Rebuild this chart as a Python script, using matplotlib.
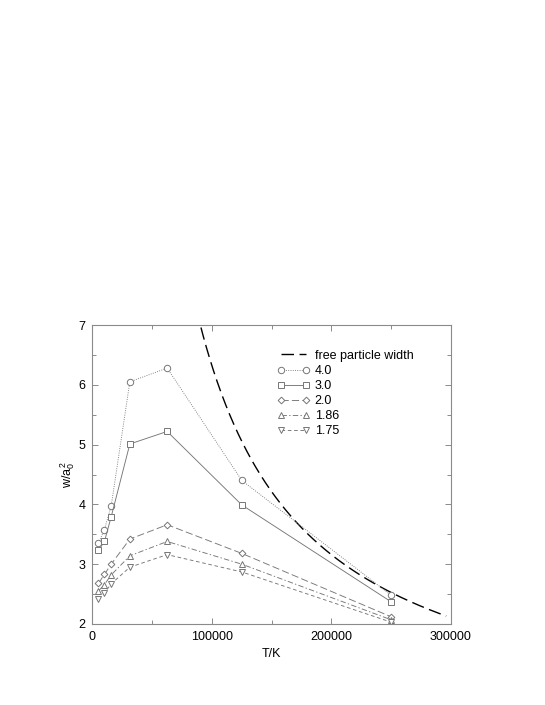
import numpy as np
import matplotlib.pyplot as plt
from matplotlib.ticker import MultipleLocator

plt.rcParams['font.family'] = ['Liberation Sans', 'DejaVu Sans']
plt.rcParams['mathtext.fontset'] = 'custom'
plt.rcParams['mathtext.rm'] = 'Liberation Sans'
plt.rcParams['mathtext.it'] = 'Liberation Sans'

# temperatures (K)
T = [5000, 10000, 15625, 31250, 62500, 125000, 250000]

# widths w/a0^2 for each parameter value
w_40 = [3.35, 3.58, 3.97, 6.05, 6.28, 4.40, 2.48]
w_30 = [3.23, 3.38, 3.79, 5.01, 5.22, 3.99, 2.37]
w_20 = [2.68, 2.83, 3.00, 3.42, 3.66, 3.18, 2.12]
w_186 = [2.55, 2.66, 2.82, 3.14, 3.38, 3.00, 2.07]
w_175 = [2.42, 2.52, 2.67, 2.95, 3.16, 2.87, 2.03]

labels = ['4.0', '3.0', '2.0', '1.86', '1.75']

# free particle width: 2 * Hartree/k_B / T
HARTREE_K = 315775.0
T_free = np.linspace(60000, 296000, 400)
w_free = 2 * HARTREE_K / T_free

fig = plt.figure(figsize=(5.45, 7.05), dpi=100)
ax = fig.add_axes([0.1697, 0.1149, 0.6578, 0.4241])

ax.plot(T_free, w_free, color='black', lw=1.0, dashes=(9, 4),
        label='free particle width')

grey = '#767676'
styles = [
    dict(marker='o', ls=':', dashes=(1, 1.5)),
    dict(marker='s', ls='-'),
    dict(marker='D', ls='--', dashes=(8, 3.5), ms=3.4),
    dict(marker='^', ls='-.', dashes=(6, 2.5, 1.5, 2.5)),
    dict(marker='v', ls='--', dashes=(4, 3)),
]
series = [w_40, w_30, w_20, w_186, w_175]
for w, lab, st in zip(series, labels, styles):
    ms = st.pop('ms', 4.6)
    ax.plot(T, w, color=grey, lw=0.65, mfc='white', mec=grey, mew=0.7,
            ms=ms, label=lab, **st)

ax.set_xlim(0, 300000)
ax.set_ylim(2, 7)
ax.xaxis.set_major_locator(MultipleLocator(100000))
ax.xaxis.set_minor_locator(MultipleLocator(50000))
ax.yaxis.set_major_locator(MultipleLocator(1))
ax.yaxis.set_minor_locator(MultipleLocator(0.5))
ax.tick_params(which='both', direction='in', top=True, right=True,
               color='#8a8a8a', labelsize=9, width=0.7)
ax.tick_params(which='major', length=4, pad=5)
ax.tick_params(which='minor', length=3)
for s in ax.spines.values():
    s.set_color('#8a8a8a')
    s.set_linewidth(0.8)

ax.set_xlabel('T/K', fontsize=9, labelpad=4)
ax.set_ylabel(r'w/a$_0^{\,2}$', fontsize=9, labelpad=1)

ax.legend(loc='upper left', bbox_to_anchor=(0.515, 0.917), frameon=False,
          fontsize=9, numpoints=2, handlelength=2.6, handletextpad=0.4,
          labelspacing=0.25, borderpad=0, borderaxespad=0)

fig.savefig('out.png', dpi=100)
